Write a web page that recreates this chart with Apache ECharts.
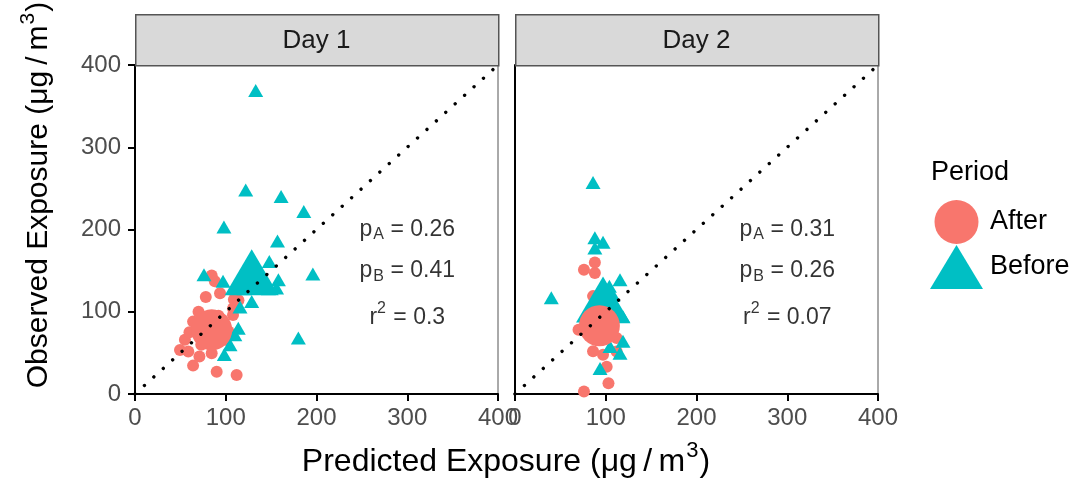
<!DOCTYPE html>
<html>
<head>
<meta charset="utf-8">
<script src="https://cdn.jsdelivr.net/npm/echarts@6/dist/echarts.min.js"></script>
<style>
html,body{margin:0;padding:0;background:#fff;}
#chart{width:1078px;height:485px;}
</style>
</head>
<body>
<div id="chart"></div>
<script>
// ---- data ----
var panels = ['Day 1', 'Day 2'];
var xTicks = [0, 100, 200, 300, 400];
var yTicks = [0, 100, 200, 300, 400];

var day1After = [[84.5,144],[88,137],[78,118],[93.7,122.5],[109,115],[114,114],[108,96],[108,104],[64,88],[55,66],[58.7,51.6],[64,34.5],[71,45.5],[90,27],[112,23],[84.5,49.6],[103,76],[49.6,53.6],[73,60],[100,66],[60,75],[92,95],[70,100]];
var day1Before = [[133,369],[122,248],[161,240],[186,222],[98,203],[157,186],[148,161],[196,146],[76,145],[97,137],[158,139],[156,129],[147,128],[128.6,112.6],[115.7,105.7],[113.8,80],[110,72],[104.7,60],[98.4,48],[180,68],[140,130],[120,128]];
var day2After = [[88,160],[76,151],[88,147],[86,119],[70,78],[112,68],[86,52],[97,47.6],[112,51.6],[101,33],[103,13],[76,3],[95,90],[80,85],[100,70]];
var day2Before = [[86,257],[88,190],[97,184.5],[88,177.6],[115.7,139],[104,131],[40,117],[119,94],[119,64],[115.7,49.6],[104.7,57.7],[93.7,31],[100,110],[92,100],[108,120]];

var meanAfter = [[84.5,78],[93,83]];
var meanBefore = [[128.6,148],[97,115]];

var statsPA = ['0.26', '0.31'];
var statsPB = ['0.41', '0.26'];
var statsR2 = ['0.3', '0.07'];
var annotX = 300;
var annotY = [200, 150, 93];

var colAfter = '#F8766D', colBefore = '#00BFC4';
var FONT = '"Liberation Sans", Arial, sans-serif';
var TS = '\u2009';

var chart = echarts.init(document.getElementById('chart'), null, {renderer: 'canvas'});

var grids = [], xAxes = [], yAxes = [], series = [];
var gridLeft = [135, 515];
var afterSets = [day1After, day2After], beforeSets = [day1Before, day2Before];

for (var i = 0; i < 2; i++) {
  grids.push({left: gridLeft[i], top: 65, width: 363, height: 329, show: true, borderColor: '#555', borderWidth: 1, backgroundColor: '#fff'});
  xAxes.push({
    type: 'value', gridIndex: i, min: 0, max: 400, interval: 100,
    axisLine: {show: true, onZero: false, lineStyle: {color: '#000', width: 2}},
    axisTick: {show: true, length: 7, lineStyle: {color: '#000', width: 2}},
    axisLabel: {show: true, margin: 12, color: '#4D4D4D', fontSize: 24, fontFamily: FONT, showMinLabel: true, showMaxLabel: true,
      formatter: function (v) { return xTicks.indexOf(v) >= 0 ? String(v) : ''; }},
    splitLine: {show: false}
  });
  yAxes.push({
    type: 'value', gridIndex: i, min: 0, max: 400, interval: 100,
    axisLine: {show: true, onZero: false, lineStyle: {color: '#000', width: 2}},
    axisTick: {show: i === 0, length: 7, lineStyle: {color: '#000', width: 2}},
    axisLabel: {show: i === 0, margin: 14, color: '#4D4D4D', fontSize: 24, fontFamily: FONT, showMinLabel: true, showMaxLabel: true,
      formatter: function (v) { return yTicks.indexOf(v) >= 0 ? String(v) : ''; }},
    splitLine: {show: false}
  });

  series.push({name: 'After', type: 'scatter', xAxisIndex: i, yAxisIndex: i, data: afterSets[i],
    symbol: 'circle', symbolSize: 12, itemStyle: {color: colAfter, opacity: 1}, z: 2});
  series.push({name: 'Before', type: 'scatter', xAxisIndex: i, yAxisIndex: i, data: beforeSets[i],
    symbol: 'triangle', symbolSize: [15, 13], itemStyle: {color: colBefore, opacity: 1}, z: 3});
  series.push({name: 'Before', type: 'scatter', xAxisIndex: i, yAxisIndex: i, data: [meanBefore[i]],
    symbol: 'triangle', symbolSize: [54, 46], itemStyle: {color: colBefore, opacity: 1}, z: 4});
  series.push({name: 'After', type: 'scatter', xAxisIndex: i, yAxisIndex: i, data: [meanAfter[i]],
    symbol: 'circle', symbolSize: 41, itemStyle: {color: colAfter, opacity: 1}, z: 5});
  series.push({name: 'identity', type: 'line', xAxisIndex: i, yAxisIndex: i, data: [[0, 0], [400, 400]],
    symbol: 'none', silent: true, z: 6,
    lineStyle: {color: '#000', width: 3.4, type: [0.01, 12.7], cap: 'round'}});

  var rich = {
    m: {fontSize: 23, fontFamily: FONT, color: '#000'},
    sub: {fontSize: 16, fontFamily: FONT, color: '#000', padding: [11, 0, 0, 1]},
    sup: {fontSize: 16, fontFamily: FONT, color: '#000', padding: [0, 1, 17, 0]}
  };
  var texts = [
    '{m|p}{sub|A}{m| = ' + statsPA[i] + '}',
    '{m|p}{sub|B}{m| = ' + statsPB[i] + '}',
    '{m|r}{sup|2}{m| = ' + statsR2[i] + '}'
  ];
  series.push({name: 'stats', type: 'scatter', xAxisIndex: i, yAxisIndex: i, silent: true, z: 7,
    symbolSize: 0,
    data: texts.map(function (t, k) { return {value: [annotX, annotY[k]], label: {formatter: t}}; }),
    label: {show: true, position: 'inside', rich: rich, color: '#000'}});
}

var graphics = [];
for (var j = 0; j < 2; j++) {
  graphics.push({type: 'rect', left: gridLeft[j], top: 14, z: 10,
    shape: {width: 363, height: 51},
    style: {fill: '#D9D9D9', stroke: '#555', lineWidth: 1.5}});
  graphics.push({type: 'text', x: gridLeft[j] + 181.5, y: 41, z: 11,
    style: {text: panels[j], fill: '#1A1A1A', font: '26px ' + FONT, textAlign: 'center', textVerticalAlign: 'middle'}});
}
function titleRich(sz) {
  return {
    t: {fontSize: sz, fontFamily: FONT, color: '#000'},
    s: {fontSize: Math.round(sz * 0.7), fontFamily: FONT, color: '#000', padding: [0, 1, Math.round(sz * 0.73), 1]}
  };
}
graphics.push({type: 'text', x: 506, y: 462, z: 11,
  style: {text: '{t|Predicted Exposure (μg' + TS + '/' + TS + 'm}{s|3}{t|)}', rich: titleRich(32), textAlign: 'center', textVerticalAlign: 'middle'}});
graphics.push({type: 'text', x: 39, y: 195, rotation: Math.PI / 2, z: 11,
  style: {text: '{t|Observed Exposure (μg' + TS + '/' + TS + 'm}{s|3}{t|)}', rich: titleRich(30), textAlign: 'center', textVerticalAlign: 'middle'}});
graphics.push({type: 'text', x: 931, y: 173, z: 11,
  style: {text: 'Period', fill: '#000', font: '27px ' + FONT, textAlign: 'left', textVerticalAlign: 'middle'}});

chart.setOption({
  animation: false,
  backgroundColor: '#fff',
  grid: grids,
  xAxis: xAxes,
  yAxis: yAxes,
  legend: {
    show: true, orient: 'vertical', left: 925, top: 195,
    itemWidth: 53, itemHeight: 44, itemGap: 1,
    textStyle: {fontSize: 27, fontFamily: FONT, color: '#000', padding: [0, 0, 0, 2]},
    data: [
      {name: 'After', icon: 'circle', itemStyle: {color: colAfter}},
      {name: 'Before', icon: 'triangle', itemStyle: {color: colBefore}}
    ],
    selectedMode: false
  },
  graphic: graphics,
  series: series
});
</script>
</body>
</html>
